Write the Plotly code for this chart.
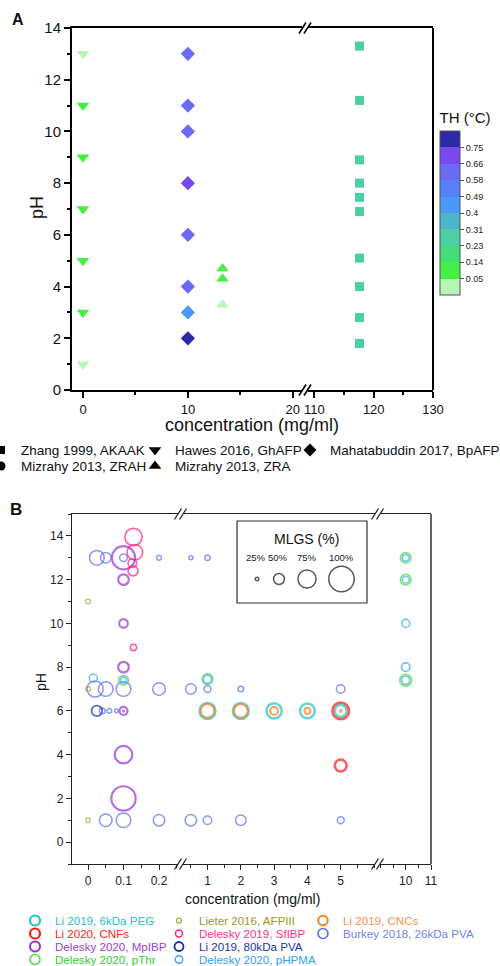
import numpy as np
import plotly.graph_objects as go

W, H = 500, 966
FONT = "Liberation Sans, Arial, sans-serif"


def px(x):
    return x / W


def py(y):
    return 1 - y / H


# ---------------- Panel A data ----------------
ZHANG_X = 117.6
ZHANG_PH = [13.3, 11.2, 8.9, 8.0, 7.45, 6.9, 5.1, 4.0, 2.8, 1.8]
ZHANG_TH = [0.27, 0.27, 0.27, 0.27, 0.27, 0.27, 0.27, 0.27, 0.27, 0.27]

HAWES_X = 0
HAWES_PH = [13, 11, 9, 7, 5, 3, 1]
HAWES_TH = [0.02, 0.10, 0.10, 0.10, 0.10, 0.10, 0.02]

MAHA_X = 10
MAHA_PH = [13, 11, 10, 8, 6, 4, 3, 2]
MAHA_TH = [0.62, 0.62, 0.62, 0.70, 0.62, 0.62, 0.45, 0.80]

ZRA_X = 13.3
ZRA_PH = [4.7, 4.3, 3.3]
ZRA_TH = [0.10, 0.10, 0.02]

TH_TICKS = [0.05, 0.1375, 0.225, 0.3125, 0.4, 0.4875, 0.575, 0.6625, 0.75]
TH_TICKTEXT = ["0.05", "0.14", "0.23", "0.31", "0.4", "0.49", "0.58", "0.66", "0.75"]
TH_MIN, TH_MAX = -0.0375, 0.8375
TH_BAND_COLORS = ["#B6F7B6", "#45F045", "#43DE75", "#4CCFA2", "#4BB5CC",
                  "#4C98F8", "#5580F7", "#6A6AF4", "#7848F0", "#2A2AA6"]

A_X1_TICKS = [0, 10, 20]
A_X2_TICKS = [110, 120, 130]

# ---------------- Panel B data ----------------
BURKEY_X = [0.025, 0.05, 0.1, 0.2, 0.5, 1.0,
            0.02, 0.05, 0.1, 0.2, 0.5, 1.0, 2.0, 5.0,
            0.04, 0.06, 0.08, 0.1,
            0.05, 0.1, 0.2, 0.5, 1.0, 2.0, 5.0]
BURKEY_PH = [13, 13, 13, 13, 13, 13,
             7, 7, 7, 7, 7, 7, 7, 7,
             6, 6, 6, 6,
             1, 1, 1, 1, 1, 1, 1]
BURKEY_MLGS = [63, 49, 39, 29, 26, 31,
               68, 63, 63, 56, 49, 36, 32, 42,
               32, 29, 25, 18,
               56, 63, 52, 52, 42, 49, 36]

PVA80_X = [0.025]
PVA80_PH = [6]
PVA80_MLGS = [49]

LIETER_X = [0, 0, 0]
LIETER_PH = [11, 7, 1]
LIETER_MLGS = [29, 29, 29]

MPIBP_X = [0.1, 0.1, 0.1, 0.1, 0.1, 0.1, 0.1]
MPIBP_PH = [13, 12, 10, 8, 6, 4, 2]
MPIBP_MLGS = [92, 49, 42, 49, 40, 73, 96]

SFIBP_X = [0.128, 0.132, 0.125, 0.127, 0.128]
SFIBP_PH = [13.95, 13.25, 12.75, 12.4, 8.9]
SFIBP_MLGS = [72, 66, 42, 47, 34]

PTHR_X = [0.1, 1.0, 10, 10, 10]
PTHR_PH = [7.4, 7.45, 13, 12, 7.4]
PTHR_MLGS = [47, 49, 49, 49, 53]

PHPMA_X = [0.015, 0.1, 1.0, 10, 10, 10, 10, 10]
PHPMA_PH = [7.5, 7.4, 7.45, 13, 12, 10, 8, 7.4]
PHPMA_MLGS = [40, 34, 40, 36, 36, 40, 42, 40]

PEG_X = [1, 2, 3, 4, 5]
PEG_PH = [6, 6, 6, 6, 6]
PEG_MLGS = [67, 67, 65, 63, 54]

CNF_X = [5, 5]
CNF_PH = [6, 3.5]
CNF_MLGS = [70, 53]

CNC_X = [1, 2, 3, 4, 5]
CNC_PH = [6, 6, 6, 6, 6]
CNC_MLGS = [60, 60, 40, 33, 18]

B_X1_TICKS = [0, 0.1, 0.2]
B_X1_TEXT = ["0", "0.1", "0.2"]
B_X2_TICKS = [1, 2, 3, 4, 5]
B_X3_TICKS = [10, 11]

MLGS_KEYS = [25, 50, 75, 100]
MLGS_KEY_TEXT = ["25%", "50%", "75%", "100%"]


def mlgs_size(m):
    m = np.asarray(m, float)
    return np.maximum(0.29 * m - 3.6, 1.5)


fig = go.Figure()

# ---------------- Panel A traces ----------------
fig.add_trace(go.Scatter(
    x=[ZHANG_X] * len(ZHANG_PH), y=ZHANG_PH, mode="markers", xaxis="x2", yaxis="y",
    showlegend=False,
    marker=dict(symbol="square", size=9, color=ZHANG_TH, coloraxis="coloraxis", line=dict(width=0))))
fig.add_trace(go.Scatter(
    x=[HAWES_X] * len(HAWES_PH), y=HAWES_PH, mode="markers", xaxis="x", yaxis="y",
    showlegend=False,
    marker=dict(symbol="triangle-down", size=11, color=HAWES_TH, coloraxis="coloraxis", line=dict(width=0))))
fig.add_trace(go.Scatter(
    x=[MAHA_X] * len(MAHA_PH), y=MAHA_PH, mode="markers", xaxis="x", yaxis="y",
    showlegend=False,
    marker=dict(symbol="diamond", size=11, color=MAHA_TH, coloraxis="coloraxis", line=dict(width=0))))
fig.add_trace(go.Scatter(
    x=[ZRA_X] * len(ZRA_PH), y=ZRA_PH, mode="markers", xaxis="x", yaxis="y",
    showlegend=False,
    marker=dict(symbol="triangle-up", size=11, color=ZRA_TH, coloraxis="coloraxis", line=dict(width=0))))

# Legend entries for panel A (black keys), one legend box per entry
A_LEGEND = [
    ("Zhang 1999, AKAAK", "square", 8, "legend", -19, 450, 140),
    ("Hawes 2016, GhAFP", "triangle-down", 11, "legend2", 135, 450, 140),
    ("Mahatabuddin 2017, BpAFP", "diamond", 10, "legend3", 290, 450, 164),
    ("Mizrahy 2013, ZRAH", "circle", 9, "legend4", -19, 466, 140),
    ("Mizrahy 2013, ZRA", "triangle-up", 11, "legend5", 135, 466, 140),
]
for name, sym, sz, lg, _l, _c, lw in A_LEGEND:
    fig.add_trace(go.Scatter(
        x=[None], y=[None], mode="markers", xaxis="x", yaxis="y", name=name,
        legend=lg, legendwidth=lw,
        marker=dict(symbol=sym, size=sz, color="black")))

# ---------------- Panel B traces ----------------
SEG_AXES = ["x3", "x4", "x5"]


def seg_of(v):
    if v <= 0.26:
        return 0
    if v <= 7:
        return 1
    return 2


def add_series(xs, phs, ms, color, lw):
    xs = np.asarray(xs, float)
    phs = np.asarray(phs, float)
    ms = np.asarray(ms, float)
    segs = np.array([seg_of(v) for v in xs])
    for s in range(3):
        mask = segs == s
        if not mask.any():
            continue
        fig.add_trace(go.Scatter(
            x=xs[mask], y=phs[mask], mode="markers", xaxis=SEG_AXES[s], yaxis="y2",
            showlegend=False,
            marker=dict(symbol="circle-open", size=mlgs_size(ms[mask]), color=color,
                        line=dict(width=lw, color=color))))


C_PEG, C_CNF, C_MPIBP, C_PTHR = "#1FC6C6", "#FF1A1A", "#9B30D0", "#3FDC3F"
C_LIETER, C_SFIBP, C_PVA80, C_PHPMA = "#A3A325", "#FF1A80", "#1C2AB5", "#3BA5F5"
C_CNC, C_BURKEY = "#FF7F1F", "#5A6BF0"

add_series(BURKEY_X, BURKEY_PH, BURKEY_MLGS, C_BURKEY, 1.5)
add_series(PVA80_X, PVA80_PH, PVA80_MLGS, C_PVA80, 1.8)
add_series(LIETER_X, LIETER_PH, LIETER_MLGS, C_LIETER, 1.2)
add_series(MPIBP_X, MPIBP_PH, MPIBP_MLGS, C_MPIBP, 2.2)
add_series(SFIBP_X, SFIBP_PH, SFIBP_MLGS, C_SFIBP, 1.6)
add_series(PTHR_X, PTHR_PH, PTHR_MLGS, C_PTHR, 1.6)
add_series(PHPMA_X, PHPMA_PH, PHPMA_MLGS, C_PHPMA, 1.6)
add_series(PEG_X, PEG_PH, PEG_MLGS, C_PEG, 2.6)
add_series(CNF_X, CNF_PH, CNF_MLGS, C_CNF, 2.6)
add_series(CNC_X, CNC_PH, CNC_MLGS, C_CNC, 2.2)

# Legend entries for panel B (one horizontal legend per row)
B_LEGEND = [
    ("Li 2019, 6kDa PEG", C_PEG, "#22C4C4", 10, 2.2, "legend6", 99),
    ("Lieter 2016, AFPIII", C_LIETER, "#9A9A20", 5, 1.2, "legend6", 99),
    ("Li 2019, CNCs", C_CNC, "#FF9040", 9.5, 2.0, "legend6", 135),
    ("Li 2020, CNFs", C_CNF, "#FF2020", 10, 2.2, "legend7", 99),
    ("Delesky 2019, SfIBP", C_SFIBP, "#FF3388", 7, 1.4, "legend7", 99),
    ("Burkey 2018, 26kDa PVA", C_BURKEY, "#7282F0", 10, 1.6, "legend7", 135),
    ("Delesky 2020, MpIBP", C_MPIBP, "#A040D0", 10, 2.0, "legend8", 99),
    ("Li 2019, 80kDa PVA", C_PVA80, "#2233AA", 9, 1.8, "legend8", 135),
    ("Delesky 2020, pThr", C_PTHR, "#33CC33", 10, 1.4, "legend9", 99),
    ("Delesky 2020, pHPMA", C_PHPMA, "#33A0F0", 7.5, 1.4, "legend9", 135),
]
for name, mc, tc, sz, lw, lg, ew in B_LEGEND:
    fig.add_trace(go.Scatter(
        x=[None], y=[None], mode="markers", xaxis="x3", yaxis="y2",
        name='<span style="color:%s">%s</span>' % (tc, name),
        legend=lg, legendwidth=ew,
        marker=dict(symbol="circle-open", size=sz, color=mc, line=dict(width=lw, color=mc))))

# MLGS size key (inset)
KEY_X = [257, 279, 307, 341.5]
fig.add_trace(go.Scatter(
    x=KEY_X, y=[579] * 4, mode="markers", xaxis="x6", yaxis="y3", showlegend=False,
    marker=dict(symbol="circle-open", size=mlgs_size(MLGS_KEYS), color="#111",
                line=dict(width=1.5, color="#111"))))

# ---------------- Axes ----------------
tickA = dict(ticks="outside", ticklen=6, tickwidth=1.5, tickcolor="black",
             showline=True, linewidth=2, linecolor="black", showgrid=False, zeroline=False,
             tickfont=dict(family=FONT, size=13, color="#111"))
minorA = dict(ticks="outside", ticklen=3, tickwidth=1.5, tickcolor="black")

layout_axes = dict(
    xaxis=dict(domain=[px(72), px(302)], range=[-1.049, 20.88], anchor="y",
               tickmode="array", tickvals=A_X1_TICKS, mirror=True,
               minor=dict(minorA, dtick=5, tick0=0), **tickA),
    xaxis2=dict(domain=[px(308), px(433)], range=[108.91, 130], anchor="y",
                tickmode="array", tickvals=A_X2_TICKS, mirror=True,
                minor=dict(minorA, dtick=5, tick0=0), **tickA),
    yaxis=dict(domain=[py(390), py(28)], range=[0, 14], anchor="x",
               tickmode="linear", tick0=0, dtick=2,
               minor=dict(minorA, dtick=1, tick0=0),
               **dict(tickA, tickfont=dict(family=FONT, size=15, color="#111"))),
)

tickB = dict(ticks="outside", ticklen=5, tickwidth=1.2, tickcolor="#222",
             showline=True, linewidth=1.4, linecolor="#222", showgrid=False, zeroline=False,
             tickfont=dict(family=FONT, size=12, color="#222"))
minorB = dict(ticks="outside", ticklen=3, tickwidth=1.2, tickcolor="#222")

layout_axes.update(
    xaxis3=dict(domain=[px(72), px(178)], range=[-0.0451, 0.2535], anchor="y2",
                tickmode="array", tickvals=B_X1_TICKS, ticktext=B_X1_TEXT, mirror=True,
                minor=dict(minorB, dtick=0.05, tick0=0), **tickB),
    xaxis4=dict(domain=[px(183), px(375)], range=[0.2643, 6.03], anchor="y2",
                tickmode="array", tickvals=B_X2_TICKS, mirror=True,
                minor=dict(minorB, dtick=0.5, tick0=0), **tickB),
    xaxis5=dict(domain=[px(380), px(431)], range=[8.984, 11.0], anchor="y2",
                tickmode="array", tickvals=B_X3_TICKS, mirror=True,
                minor=dict(minorB, dtick=0.5, tick0=0), **tickB),
    yaxis2=dict(domain=[py(864), py(514)], range=[-1, 15], anchor="x3",
                tickmode="linear", tick0=0, dtick=2,
                minor=dict(minorB, dtick=1, tick0=-1), **tickB),
    xaxis6=dict(domain=[px(237), px(367)], range=[237, 367], anchor="y3", visible=False),
    yaxis3=dict(domain=[py(603), py(521)], range=[603, 521], anchor="x6", visible=False),
)

# ---------------- Shapes ----------------
shapes = []
shapes.append(dict(type="line", xref="paper", yref="paper", x0=px(433), x1=px(433),
                   y0=py(390), y1=py(28), line=dict(color="black", width=2)))
shapes.append(dict(type="line", xref="paper", yref="paper", x0=px(431), x1=px(431),
                   y0=py(864), y1=py(514), line=dict(color="#222", width=1.4)))


def break_marks(cx, cy, color, width):
    out = []
    for d in (-2.5, 2.5):
        out.append(dict(type="line", xref="paper", yref="paper",
                        x0=px(cx + d - 3.5), y0=py(cy + 5.5),
                        x1=px(cx + d + 3.5), y1=py(cy - 5.5),
                        line=dict(color=color, width=width)))
    return out


for cy in (28, 390):
    shapes += break_marks(305, cy, "black", 1.6)
for cx in (180.5, 377.5):
    for cy in (514, 864):
        shapes += break_marks(cx, cy, "#222", 1.3)
shapes.append(dict(type="rect", xref="paper", yref="paper", x0=px(237), x1=px(367),
                   y0=py(603), y1=py(521), line=dict(color="#333", width=1.2)))

# ---------------- Annotations ----------------
ann = []


def text(x, y, s, size, bold=False, angle=0, color="#111", xref="paper", yref="paper"):
    ann.append(dict(x=x, y=y, xref=xref, yref=yref, text=("<b>%s</b>" % s) if bold else s,
                    showarrow=False, xanchor="center", yanchor="middle", textangle=angle,
                    font=dict(family=FONT, size=size, color=color)))


text(px(18), py(20), "A", 16, bold=True)
text(px(16), py(509), "B", 17, bold=True)
text(px(252), py(425), "concentration (mg/ml)", 18)
text(px(37), py(208), "pH", 18, angle=-90)
text(px(252), py(899), "concentration (mg/ml)", 14)
text(px(41), py(682), "pH", 14, angle=-90)
text(306, 539, "MLGS (%)", 14, xref="x6", yref="y3")
LABEL_X = [256, 278, 306.5, 341.5]
for lx, lt in zip(LABEL_X, MLGS_KEY_TEXT):
    text(lx, 557, lt, 9.5, xref="x6", yref="y3", color="#222")

# ---------------- Colour axis ----------------
cs = []
n = len(TH_BAND_COLORS)
for i, c in enumerate(TH_BAND_COLORS):
    cs.append([i / n, c])
    cs.append([(i + 1) / n, c])

coloraxis = dict(
    colorscale=cs, cmin=TH_MIN, cmax=TH_MAX,
    colorbar=dict(x=px(430), xanchor="left", xpad=10, y=py(202), yanchor="middle",
                  len=186, lenmode="pixels", thickness=20, thicknessmode="pixels",
                  ypad=0, outlinewidth=1, outlinecolor="#555",
                  tickmode="array", tickvals=TH_TICKS, ticktext=TH_TICKTEXT,
                  ticks="outside", ticklen=4, tickcolor="#555",
                  tickfont=dict(family=FONT, size=9, color="#222"),
                  title=dict(text="TH (°C)", side="top",
                             font=dict(family=FONT, size=15, color="#111"))))

# ---------------- Legends ----------------
legends = {}
for name, sym, sz, lg, left, cy, lw in A_LEGEND:
    legends[lg] = dict(x=px(left), y=py(cy - 15.3), xanchor="left", yanchor="top",
                       orientation="h", bgcolor="rgba(0,0,0,0)", borderwidth=0,
                       itemsizing="trace", font=dict(family=FONT, size=13.5, color="#111"))
B_ROW_CENTERS = {"legend6": 920, "legend7": 933, "legend8": 946, "legend9": 959}
for lg, cy in B_ROW_CENTERS.items():
    legends[lg] = dict(x=px(15), y=py(cy - 14), xanchor="left", yanchor="top",
                       orientation="h", bgcolor="rgba(0,0,0,0)", borderwidth=0,
                       itemsizing="trace", font=dict(family=FONT, size=11.6, color="#111"))

fig.update_layout(
    width=W, height=H,
    margin=dict(l=0, r=0, t=0, b=0, autoexpand=False),
    paper_bgcolor="white", plot_bgcolor="white",
    font=dict(family=FONT, color="#111"),
    coloraxis=coloraxis,
    shapes=shapes, annotations=ann,
    **legends,
    **layout_axes,
)

fig.write_html("out.html", config={"displayModeBar": False},
               post_script="document.body.style.margin='0px';document.body.style.overflow='hidden';")
